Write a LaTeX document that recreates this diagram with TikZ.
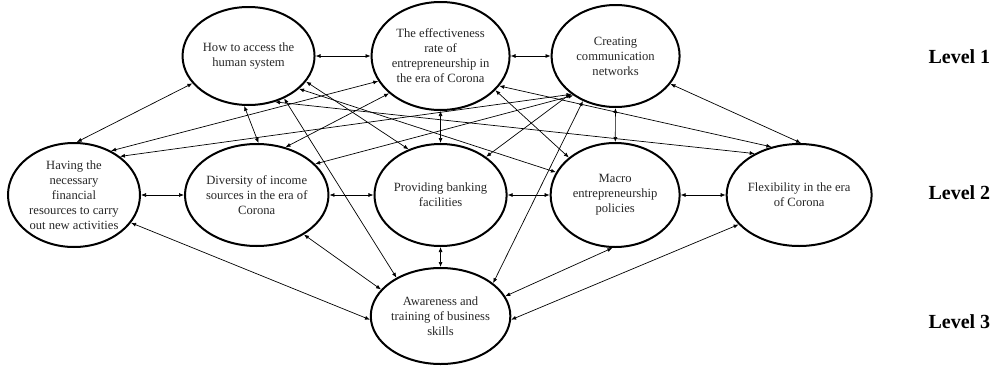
\documentclass[tikz,border=0pt]{standalone}
\usepackage{fontspec}
\setmainfont{Liberation Serif}
\usetikzlibrary{arrows.meta,positioning,shapes.geometric}

\begin{document}
\begin{tikzpicture}[x=1pt, y=-1pt, font=\fontsize{12.6}{15}\selectfont,
  fac/.style={ellipse, draw=black, line width=2pt, align=center, inner sep=0pt, text=black!85,
              minimum width=130pt, minimum height=102pt},
  a/.style={{Latex[length=5pt,width=4pt]}-{Latex[length=5pt,width=4pt]}, line width=0.7pt},
  lab/.style={anchor=west, font=\fontsize{20}{24}\selectfont\bfseries}]
\useasboundingbox (0,0) rectangle (1001,367);

% ---------------- Level 2
\node[fac, minimum width=132pt, minimum height=104pt] (fin) at (74,195) {Having the\\necessary\\financial\\resources to carry\\out new activities};
\node[fac, right=43pt of fin] (div) {Diversity of income\\sources in the era of\\Corona};
\node[fac, right=44pt of div] (bank) {Providing banking\\facilities};
\node[fac, minimum width=129pt, minimum height=104pt, right=42pt of bank] (macro) {Macro\\entrepreneurship\\policies};
\node[fac, minimum width=120pt, right=45pt of macro] (flex) {Flexibility in the era\\of Corona};

% ---------------- Level 1 and Level 3
\node[fac, minimum width=132pt, minimum height=108pt, above=32pt of bank] (eff) {The effectiveness\\rate of\\entrepreneurship in\\the era of Corona};
\node[fac, minimum width=132pt, minimum height=98pt, left=55pt of eff] (hum) {How to access the\\human system};
\node[fac, minimum width=128pt, right=40pt of eff] (com) {Creating\\communication\\networks};
\node[fac, minimum height=96pt, below=20pt of bank] (aware) {Awareness and\\training of business\\skills};

\node[lab] (l1) at (925,57) {Level 1};
\node[lab] (l2) at (925,193) {Level 2};
\node[lab] (l3) at (925,322) {Level 3};

% ---------------- links within a row / column
\draw[a] (hum)--(eff); \draw[a] (eff)--(com);
\draw[a] (fin)--(div); \draw[a] (div)--(bank); \draw[a] (bank)--(macro); \draw[a] (macro)--(flex);
\draw[a] (eff)--(bank); \draw[a] (com)--(macro); \draw[a] (bank)--(aware);

% ---------------- crossing links
\draw[a] (hum.206)--(fin.87); \draw[a] (hum.265)--(div.88); \draw[a] (hum.310)--(aware.139);
\draw[a] (hum.336)--(bank.125); \draw[a] (hum.327)--(macro.159); \draw[a] (hum.300)--(flex.137);
\draw[a] (eff.202)--(fin.50); \draw[a] (eff.216)--(div.59); \draw[a] (eff.328)--(macro.141); \draw[a] (eff.333)--(flex.120);
\draw[a] (com.221)--(fin.40); \draw[a] (com.223)--(div.28); \draw[a] (com.220)--(bank.40);
\draw[a] (com.234)--(aware.32); \draw[a] (com.333)--(flex.88);
\draw[a] (fin.334)--(aware.183); \draw[a] (div.320)--(aware.156);
\draw[a] (macro.267)--(aware.17); \draw[a] (flex.206)--(aware.357);
\end{tikzpicture}
\end{document}
